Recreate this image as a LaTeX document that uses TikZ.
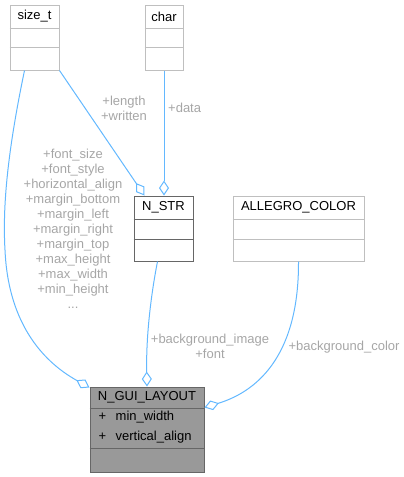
\documentclass[tikz,border=0pt]{standalone}
\usepackage{fontspec}
\setmainfont{Liberation Sans}
\usepackage{tikz}
\usepackage{tkz-euclide}
\usetikzlibrary{arrows.meta}

\definecolor{linha}{HTML}{63B8FF}
\definecolor{bordaclara}{HTML}{BFBFBF}
\definecolor{bordaescura}{HTML}{666666}
\definecolor{fundo}{HTML}{999999}
\definecolor{cinzarotulo}{HTML}{A6A6A6}

\begin{document}
\begin{tikzpicture}[x=1pt,y=-1pt,font=\fontsize{13}{15}\selectfont,
  classe/.style={draw=bordaclara, fill=white, line width=1pt, inner sep=0pt},
  classeatual/.style={draw=bordaescura, fill=fundo, line width=1pt, inner sep=0pt},
  divisa/.style={draw=bordaclara, line width=1pt},
  divisaescura/.style={draw=bordaescura, line width=1pt},
  ligacao/.style={draw=linha, line width=1pt, -{Diamond[open,length=15pt,width=10pt]}},
  rotulo/.style={text=cinzarotulo, align=center, inner sep=0pt}]

\useasboundingbox (0,0) rectangle (404,477);

%O comando \tkzDefPoints define os centros das caixas das classes (x/y/NomedoPonto)
\tkzDefPoints{
34.5/37.5/S,
164/37.5/C,
163.5/228.5/N,
298.5/228.5/A,
147/429.5/L}

%Caixas das classes externas (size_t, char, ALLEGRO_COLOR) e de N_STR
%---------------------------------------------------
\node[classe, minimum width=49pt, minimum height=65pt] (sizet) at (S) {};
\draw[divisa] ([yshift=-24pt]sizet.north west) -- ([yshift=-24pt]sizet.north east);
\draw[divisa] ([yshift=-43pt]sizet.north west) -- ([yshift=-43pt]sizet.north east);
\node (sizet-titulo) at ([yshift=-12pt]sizet.north) {size\_t};

\node[classe, minimum width=38pt, minimum height=65pt] (char) at (C) {};
\draw[divisa] ([yshift=-24pt]char.north west) -- ([yshift=-24pt]char.north east);
\draw[divisa] ([yshift=-43pt]char.north west) -- ([yshift=-43pt]char.north east);
\node (char-titulo) at ([yshift=-12pt]char.north) {char};

\node[classe, draw=bordaescura, minimum width=59pt, minimum height=65pt] (nstr) at (N) {};
\draw[divisaescura] ([yshift=-24pt]nstr.north west) -- ([yshift=-24pt]nstr.north east);
\draw[divisaescura] ([yshift=-44pt]nstr.north west) -- ([yshift=-44pt]nstr.north east);
\node (nstr-titulo) at ([yshift=-12pt]nstr.north) {N\_STR};

\node[classe, minimum width=131pt, minimum height=65pt] (allegro) at (A) {};
\draw[divisa] ([yshift=-24pt]allegro.north west) -- ([yshift=-24pt]allegro.north east);
\draw[divisa] ([yshift=-44pt]allegro.north west) -- ([yshift=-44pt]allegro.north east);
\node (allegro-titulo) at ([yshift=-12pt]allegro.north) {ALLEGRO\_COLOR};
%---------------------------------------------------

%Caixa da classe N_GUI_LAYOUT, com os dois atributos proprios
%---------------------------------------------------
\node[classeatual, minimum width=114pt, minimum height=85pt] (layout) at (L) {};
\draw[divisaescura] ([yshift=-22pt]layout.north west) -- ([yshift=-22pt]layout.north east);
\draw[divisaescura] ([yshift=-62pt]layout.north west) -- ([yshift=-62pt]layout.north east);
\node (layout-titulo) at ([yshift=-11pt]layout.north) {N\_GUI\_LAYOUT};
\node[anchor=west, inner sep=0pt] (layout-a1) at ([xshift=9pt,yshift=-31pt]layout.north west) {\makebox[17pt][l]{+}min\_width};
\node[anchor=west, inner sep=0pt] (layout-a2) at ([xshift=9pt,yshift=-51pt]layout.north west) {\makebox[17pt][l]{+}vertical\_align};
%---------------------------------------------------

%Ligacoes de agregacao (losango aberto junto da classe que contem o membro)
%---------------------------------------------------
\draw[ligacao] ([xshift=-10pt]sizet.south) .. controls (10,140) and (2,200) .. (5,250)
  .. controls (8,320) and (40,360) .. ([yshift=-1pt]layout.north west);
\draw[ligacao] (sizet.south east) -- ([xshift=11pt]nstr.north west);
\draw[ligacao] (char.south) -- (nstr.north -| char.south);
\draw[ligacao] ([xshift=-6pt]nstr.south) .. controls (150,300) and (146,340) .. (layout.north);
\draw[ligacao] (allegro.south) .. controls (299,350) and (262,390) .. ([yshift=-21pt]layout.north east);
%---------------------------------------------------

%Rotulos das ligacoes
%---------------------------------------------------
\node[rotulo] (r-length) at (124,108) {+length\\+written};
\node[rotulo, anchor=west] (r-data) at (168,108) {+data};
\node[rotulo] (r-sizet) at (73,229) {+font\_size\\+font\_style\\+horizontal\_align\\+margin\_bottom\\+margin\_left\\+margin\_right\\+margin\_top\\+max\_height\\+max\_width\\+min\_height\\...};
\node[rotulo] (r-imagem) at (210,346) {+background\_image\\+font};
\node[rotulo] (r-cor) at (344,347) {+background\_color};
%---------------------------------------------------

\end{tikzpicture}
\end{document}
